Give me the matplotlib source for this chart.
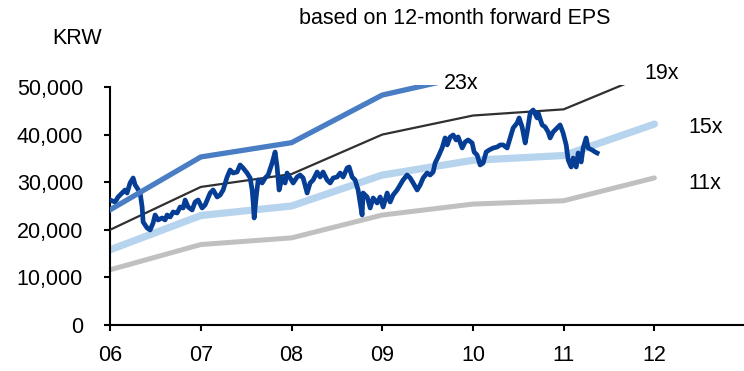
import matplotlib
matplotlib.use("Agg")
import matplotlib.pyplot as plt
from matplotlib.ticker import FuncFormatter

plt.rcParams['font.family'] = ['Liberation Sans', 'DejaVu Sans']

# band nodes at the start of each year (06 .. 12), KRW thousands
band_years = [0, 1, 2, 3, 4, 5, 6]
band_23x = [24.2, 35.3, 38.3, 48.3, 52.6, 54.0, 64.5]
band_19x = [20.0, 29.0, 31.7, 40.0, 44.0, 45.3, 53.2]
band_15x = [15.8, 23.0, 25.0, 31.5, 34.6, 35.6, 42.2]
band_11x = [11.6, 16.9, 18.3, 23.1, 25.4, 26.1, 30.9]

# share price, years since Jan-06 and KRW thousands
price_t = [0.00, 0.055, 0.088, 0.132, 0.165, 0.187, 0.220, 0.254, 0.276, 0.298,
           0.331, 0.353, 0.364, 0.408, 0.441, 0.474, 0.496, 0.529, 0.573, 0.606,
           0.628, 0.662, 0.695, 0.739, 0.772, 0.805, 0.827, 0.860, 0.904, 0.937,
           0.970, 1.014, 1.047, 1.103, 1.136, 1.180, 1.213, 1.246, 1.290, 1.323,
           1.356, 1.400, 1.433, 1.466, 1.510, 1.544, 1.566, 1.577, 1.588, 1.610,
           1.632, 1.676, 1.709, 1.742, 1.786, 1.819, 1.841, 1.863, 1.896, 1.929,
           1.951, 1.985, 2.018, 2.062, 2.095, 2.128, 2.172, 2.205, 2.238, 2.282,
           2.315, 2.348, 2.392, 2.426, 2.459, 2.503, 2.536, 2.569, 2.613, 2.635,
           2.668, 2.701, 2.734, 2.778, 2.789, 2.834, 2.867, 2.900, 2.944, 2.977,
           3.010, 3.054, 3.087, 3.120, 3.164, 3.197, 3.230, 3.274, 3.308, 3.341,
           3.385, 3.418, 3.451, 3.495, 3.528, 3.561, 3.583, 3.616, 3.660, 3.693,
           3.716, 3.749, 3.782, 3.815, 3.837, 3.881, 3.914, 3.947, 3.991, 4.013,
           4.046, 4.079, 4.112, 4.146, 4.179, 4.223, 4.267, 4.300, 4.333, 4.377,
           4.410, 4.443, 4.487, 4.509, 4.542, 4.576, 4.598, 4.631, 4.664, 4.708,
           4.719, 4.763, 4.796, 4.829, 4.851, 4.884, 4.928, 4.961, 4.994, 5.028,
           5.050, 5.083, 5.105, 5.138, 5.160, 5.193, 5.215, 5.248, 5.270, 5.314,
           5.347, 5.369]
price = [26.26, 25.84, 26.89, 27.73, 28.36, 27.73, 29.83, 30.88, 29.41, 28.78,
         27.73, 24.79, 21.64, 20.38, 19.96, 21.43, 23.11, 22.06, 22.48, 22.06,
         23.11, 22.69, 23.74, 23.53, 24.79, 24.58, 26.26, 24.79, 24.16, 25.84,
         26.26, 24.58, 25.21, 27.73, 28.36, 26.89, 27.31, 28.36, 31.09, 32.56,
         31.93, 32.14, 33.61, 32.98, 31.93, 30.88, 28.36, 25.84, 22.48, 26.89,
         30.46, 29.83, 30.88, 31.51, 34.03, 36.34, 33.19, 28.36, 30.88, 29.83,
         31.93, 30.88, 29.83, 31.09, 31.51, 30.88, 27.73, 29.83, 30.46, 32.14,
         31.09, 32.14, 30.46, 29.83, 30.88, 31.09, 31.93, 31.09, 32.98, 33.19,
         31.09, 30.46, 28.36, 23.11, 27.73, 26.89, 24.58, 26.68, 25.63, 26.89,
         24.79, 27.73, 25.84, 27.31, 28.36, 29.41, 30.46, 31.51, 30.88, 29.83,
         28.36, 29.41, 30.88, 31.93, 31.51, 32.14, 34.03, 35.29, 37.18, 39.29,
         37.82, 39.50, 39.92, 38.87, 39.50, 37.18, 38.45, 38.87, 38.24, 36.34,
         35.71, 33.61, 34.03, 36.34, 36.76, 37.18, 37.39, 37.82, 37.82, 37.18,
         39.29, 41.39, 42.44, 43.49, 41.60, 38.24, 40.55, 44.54, 45.17, 43.49,
         44.54, 42.02, 41.60, 40.55, 39.29, 40.55, 41.39, 42.02, 40.34, 37.82,
         34.66, 33.19, 35.08, 33.19, 36.13, 34.24, 37.18, 39.29, 37.18, 36.76,
         36.34, 36.13]

year_labels = ['06', '07', '08', '09', '10', '11', '12']

fig = plt.figure(figsize=(7.44, 3.71), dpi=100)
ax = fig.add_axes([0.148, 0.124, 0.851, 0.648])

def k(vals):
    return [v * 1000 for v in vals]

ax.plot(band_years, k(band_15x), color='#B7D4EF', lw=5.2, solid_capstyle='round', zorder=2)
ax.plot(band_years, k(band_11x), color='#C0C0C0', lw=3.6, solid_capstyle='round', zorder=2)
ax.plot(band_years, k(band_19x), color='#303030', lw=1.6, zorder=3)
ax.plot(price_t, k(price), color='#063E96', lw=3.4, zorder=4)
ax.plot(band_years, k(band_23x), color='#4A7EC4', lw=3.8, zorder=5)

ax.set_xlim(0, 6.98)
ax.set_ylim(0, 50500)
ax.set_xticks(band_years)
ax.set_xticklabels(year_labels)
ax.set_yticks(range(0, 50001, 10000))
ax.yaxis.set_major_formatter(FuncFormatter(lambda v, p: f"{int(v):,}"))

for s in ['top', 'right']:
    ax.spines[s].set_visible(False)
ax.spines['left'].set_bounds(0, 50000)
for s in ['left', 'bottom']:
    ax.spines[s].set_linewidth(1.5)
ax.tick_params(axis='y', length=4.5, width=1.5, pad=15, labelsize=15.5)
ax.tick_params(axis='x', length=4.5, width=1.5, pad=10, labelsize=15.5)

lbl = dict(fontsize=15.5, ha='center', va='center', clip_on=False)
ax.text(3.87, 50800, '23x', **lbl)
ax.text(6.08, 52900, '19x', **lbl)
ax.text(6.56, 41400, '15x', **lbl)
ax.text(6.56, 29800, '11x', **lbl)

fig.text(455 / 744, 1 - 18 / 371, 'based on 12-month forward EPS', fontsize=15.5, ha='center', va='center')
fig.text(77 / 744, 1 - 38 / 371, 'KRW', fontsize=15.5, ha='center', va='center')

fig.savefig('out.png', dpi=100)
